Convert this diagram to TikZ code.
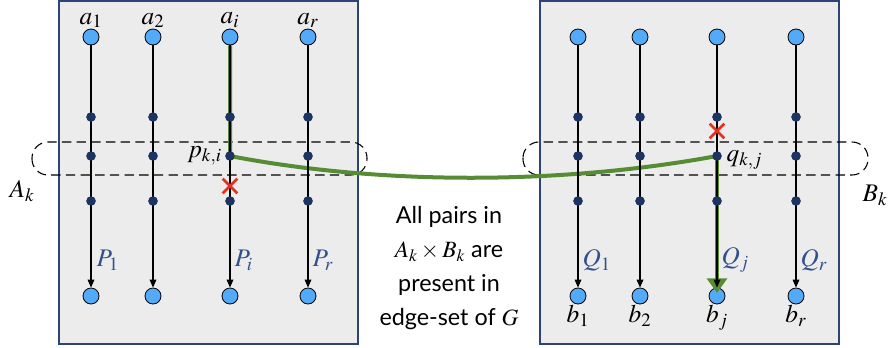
\documentclass[tikz,border=0pt]{standalone}
\usepackage{mathptmx}
\usepackage{fontspec}
\setsansfont{Lato}
\usetikzlibrary{arrows.meta,positioning,calc,shapes.misc}

\definecolor{boxfill}{RGB}{236,236,236}
\definecolor{boxline}{RGB}{44,68,118}
\definecolor{navy}{RGB}{28,52,98}
\definecolor{nodeblue}{RGB}{82,170,248}
\definecolor{pathgreen}{RGB}{86,140,52}
\definecolor{crossred}{RGB}{228,48,28}
\definecolor{labelblue}{RGB}{50,80,140}

\begin{document}
\begin{tikzpicture}[
  x=0.75pt, y=-0.75pt,
  font=\fontsize{19}{22}\selectfont,
  % styles
  panel/.style={draw=boxline, fill=boxfill, line width=1.1pt},
  endpt/.style={circle, draw=black, fill=nodeblue, minimum size=12pt, inner sep=0pt, line width=0.6pt},
  midpt/.style={circle, fill=navy, minimum size=7pt, inner sep=0pt},
  pathline/.style={-{Triangle[length=6pt,width=5pt]}, line width=0.9pt},
  band/.style={dash pattern=on 7pt off 4pt, rounded corners=12pt, line width=0.8pt},
  greenpath/.style={pathgreen, line width=3pt},
  cutmark/.style={cross out, draw=crossred, line width=2pt, minimum size=9pt, inner sep=0pt},
  pathlbl/.style={labelblue, inner sep=1pt}
]
  \useasboundingbox (0,0) rectangle (892,347);

  % panels
  \draw[panel] (59,1) rectangle (358,344);
  \draw[panel] (540,1) rectangle (839,344);

  % dashed bands A_k and B_k
  \draw[band] (32,142) rectangle (367,175);
  \draw[band] (523,142) rectangle (868,175);

  % path nodes
  \foreach \c/\x in {1/91,2/153,3/230,4/308} {
    \node[endpt] (Lt\c) at (\x,37) {};
    \node[midpt] (Lu\c) at (\x,117) {};
    \node[midpt] (Lc\c) at (\x,156) {};
    \node[midpt] (Ld\c) at (\x,201) {};
    \node[endpt] (Lb\c) at (\x,296) {};
  }
  \foreach \c/\x in {1/578,2/640,3/717,4/796} {
    \node[endpt] (Rt\c) at (\x,37) {};
    \node[midpt] (Ru\c) at (\x,117) {};
    \node[midpt] (Rc\c) at (\x,156) {};
    \node[midpt] (Rd\c) at (\x,201) {};
    \node[endpt] (Rb\c) at (\x,296) {};
  }

  % green detour
  \draw[greenpath] (Lt3.south) -- (Lc3.center)
    .. controls (380,185) and (560,185) .. (Rc3.center);
  \draw[greenpath, -{Triangle[length=11pt,width=15pt]}] (Rc3.center) -- ([yshift=-4pt]Rb3.north);

  % paths P_i and Q_j
  \foreach \c in {1,2,3,4} {
    \draw[pathline] (Lt\c) -- (Lb\c);
    \draw[pathline] (Rt\c) -- (Rb\c);
  }
  \foreach \c in {1,2,3,4} {
    \node[midpt] at (Lu\c) {};
    \node[midpt] at (Lc\c) {};
    \node[midpt] at (Ld\c) {};
    \node[midpt] at (Ru\c) {};
    \node[midpt] at (Rc\c) {};
    \node[midpt] at (Rd\c) {};
  }

  % removed edges
  \node[cutmark] (cutL) at (230,186) {};
  \node[cutmark] (cutR) at (717,131) {};

  % endpoint labels
  \foreach \c/\s/\t in {1/1/1,2/2/2,3/i/j,4/r/r} {
    \node[above=-3pt of Lt\c] (la\c) {$a_\s$};
    \node[below=-3pt of Rb\c] (lb\c) {$b_\t$};
  }

  % path labels
  \node[pathlbl, anchor=west] (P1) at (95,260) {$P_1$};
  \node[pathlbl, anchor=west] (Pi) at (233,260) {$P_i$};
  \node[pathlbl, anchor=west] (Pr) at (311,260) {$P_r$};
  \node[pathlbl, anchor=west] (Q1) at (581,260) {$Q_1$};
  \node[pathlbl, anchor=west] (Qj) at (720,260) {$Q_j$};
  \node[pathlbl, anchor=west] (Qr) at (799,260) {$Q_r$};

  \node[left=-1pt of Lc3] (pki) {$p_{k,i}$};
  \node[right=0pt of Rc3, yshift=-3pt] (qkj) {$q_{k,j}$};

  \node (Ak) at (22,191) {$A_k$};
  \node (Bk) at (875,195) {$B_k$};

  % note
  \node[align=center, font=\sffamily\fontsize{17.5}{25.5}\selectfont] (note) at (449,268)
    {All pairs in\\$A_k\times B_k$ are\\present in\\edge-set of $G$};
\end{tikzpicture}
\end{document}
